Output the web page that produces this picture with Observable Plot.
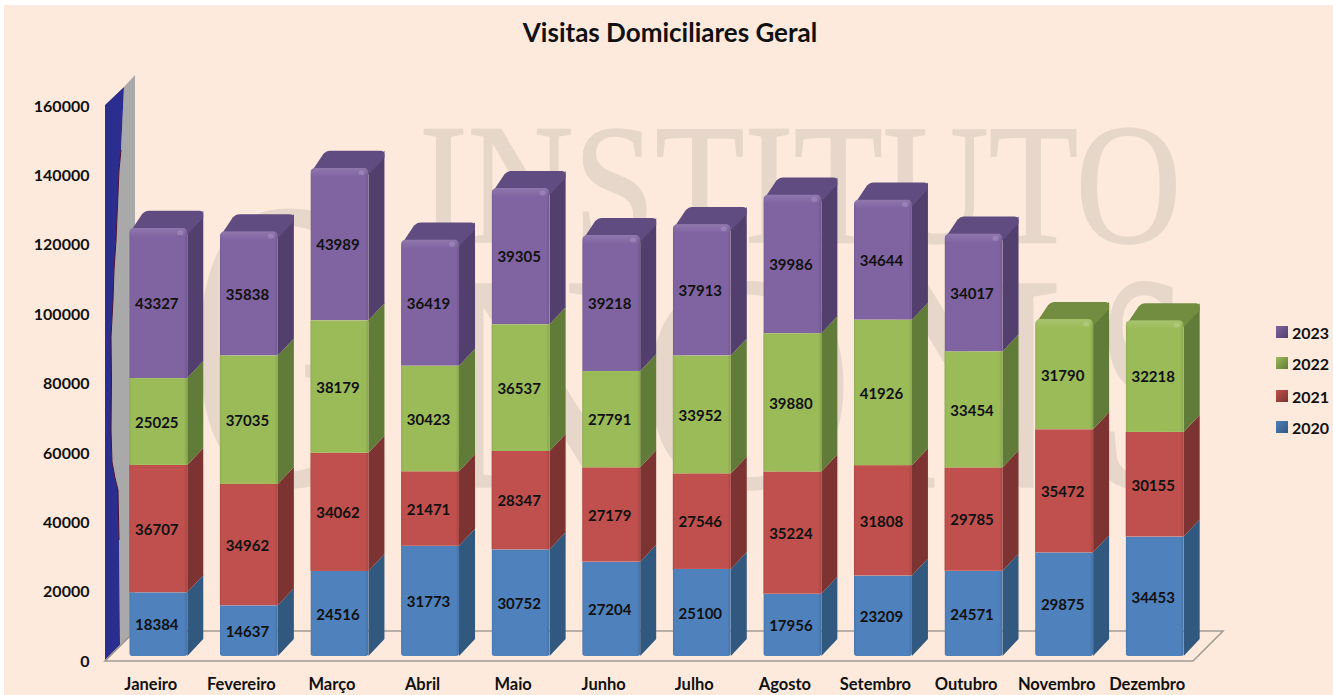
<!DOCTYPE html>
<html lang="pt">
<head>
<meta charset="utf-8">
<script src="https://cdn.jsdelivr.net/npm/d3@7"></script>
<script src="https://cdn.jsdelivr.net/npm/@observablehq/plot@0.6"></script>
<style>
  html,body{margin:0;padding:0;background:#fff;}
  #page{position:relative;width:1333px;height:695px;overflow:hidden;background:#fff;}
  #bg{position:absolute;left:4px;top:5px;right:0;bottom:0;background:#fdeadc;}
  #chart{position:absolute;left:0;top:0;}
  #chart svg{background:transparent;display:block;}
  #title{position:absolute;left:0;width:1340px;top:16px;text-align:center;font:700 26px Lato,sans-serif;color:#111;}
  #legend{position:absolute;left:1276px;top:0;font:700 16px Lato,sans-serif;color:#111;}
  #legend .row{position:absolute;left:0;display:flex;align-items:center;gap:4px;height:18px;white-space:nowrap;}
  #legend .sw{display:inline-block;width:12px;height:12px;}
</style>
</head>
<body>
<div id="page">
  <div id="bg"></div>
  <div id="chart"></div>
  <div id="title">Visitas Domiciliares Geral</div>
  <div id="legend"></div>
</div>
<script>
const months = ["Janeiro","Fevereiro","Março","Abril","Maio","Junho","Julho","Agosto","Setembro","Outubro","Novembro","Dezembro"];
const years = ["2020","2021","2022","2023"];
const v2020 = [18384,14637,24516,31773,30752,27204,25100,17956,23209,24571,29875,34453];
const v2021 = [36707,34962,34062,21471,28347,27179,27546,35224,31808,29785,35472,30155];
const v2022 = [25025,37035,38179,30423,36537,27791,33952,39880,41926,33454,31790,32218];
const v2023 = [43327,35838,43989,36419,39305,39218,37913,39986,34644,34017,null,null];
const yTicks = [0,20000,40000,60000,80000,100000,120000,140000,160000];
const front = ["#4f81bd","#c0504d","#9bbb59","#8064a2"];
const side  = ["#31587f","#7c3331","#617b38","#533f6d"];
const topFace = ["#3d6a9c","#9a403e","#728c40","#604c80"];

const series = [v2020,v2021,v2022,v2023];
const rows = [];
months.forEach((m,i)=>{
  years.forEach((yr,k)=>{
    const v = series[k][i];
    if (v != null) rows.push({month:m, year:yr, value:v});
  });
});
const topYear = new Map(months.map((m,i)=>[m, series[3][i]!=null ? "2023" : "2022"]));

const NS = "http://www.w3.org/2000/svg";
const el = (name, attrs, parent) => {
  const e = document.createElementNS(NS, name);
  for (const k in attrs) e.setAttribute(k, attrs[k]);
  if (parent) parent.appendChild(e);
  return e;
};

/* Background lettering of the sheet */
function watermark() {
  const g = el("g", {fill:"#e6d7ca", stroke:"#e6d7ca", "stroke-width":1.5, "font-family":"'Liberation Serif',serif", "text-anchor":"start"});
  const put = (s, size, x, y, sx) => {
    const t = el("text", {transform:`translate(${x},${y}) scale(${sx},1)`, "font-size":size}, g);
    t.textContent = s;
  };
  put("INSTITUTO", 172, 419, 242, 0.852);
  put("G", 415, 190, 484, 0.62);
  put("N", 310, 437, 487, 0.9);
  put("O", 310, 640, 487, 0.96);
  put("N", 310, 865, 487, 0.88);
  put("S", 310, 1098, 487, 0.52);
  return g;
}

/* Wall and floor of the 3-D chart frame, hung on the y scale */
function frameMark(index, scales) {
  const y = scales.y;
  const g = el("g", {});
  const base = y(0), topY = y(160000);
  const wave = [[124,87],[121,150],[119,170],[116,240],[114,270],[113,300],[111,337],[111.5,380],[111,430],[112,462],[115,478],[118,490],[119,540],[120,645]];
  const wavePts = wave.map(p=>p.join(","));
  el("polygon", {points:[...wavePts,`135,631`,`135,75`].join(" "), fill:"#a9a9a9"}, g);
  el("polygon", {points:[`105,${topY+4}`,...wavePts,`105,${base+4}`].join(" "), fill:"#2b2e8e"}, g);
  el("polyline", {points:wave.slice(1,13).join(" "), fill:"none", stroke:"#4a1036", "stroke-width":1}, g);
  el("polygon", {points:`105,${base+5} 1193,${base+5} 1223,${base-25} 135,${base-25}`, fill:"none", stroke:"#a39c94", "stroke-width":1.6}, g);
  el("polyline", {points:`135,${base-25} 120,${base-10} 105,${base+5}`, fill:"none", stroke:"#8d8a88", "stroke-width":1}, g);
  return g;
}

const DX = 16, DY = 17;
function cubeRender(index, scales, values, dimensions, context, next) {
  const g = next(index, scales, values, dimensions, context);
  const rects = Array.from(g.querySelectorAll("rect"));
  const layer = el("g", {});
  g.insertBefore(layer, g.firstChild);
  rects.forEach((r,n)=>{
    const d = rows[index[n]];
    const k = years.indexOf(d.year);
    const x = +r.getAttribute("x"), y0 = +r.getAttribute("y"), w = +r.getAttribute("width"), h = +r.getAttribute("height");
    el("polygon",{points:`${x+w},${y0} ${x+w+DX},${y0-DY} ${x+w+DX},${y0+h-DY} ${x+w},${y0+h}`, fill:side[k]}, layer);
    const isTop = topYear.get(d.month) === d.year;
    if (isTop) {
      el("path",{d:`M${x+3},${y0+1} L${x+DX-3},${y0-DY+3} Q${x+DX},${y0-DY} ${x+DX+3},${y0-DY} L${x+w+DX-4},${y0-DY} Q${x+w+DX},${y0-DY} ${x+w+DX},${y0-DY+4} L${x+w+DX},${y0-DY+7} L${x+w},${y0+7} Z`, fill:topFace[k]}, layer);
      r.style.clipPath = "inset(0 round 5px 5px 0 0)";
    }
    if (d.year === "2020") r.style.clipPath = "inset(0 round 0 0 3px 3px)";
    const shade = el("rect",{x, y:y0, width:w, height:h, fill:"url(#bevelH)"}, g);
    shade.style.clipPath = r.style.clipPath;
    if (isTop) {
      const band = el("rect",{x:x, y:y0, width:w, height:9, fill:"url(#bevelV)"}, g);
      band.style.clipPath = "inset(0 round 5px 5px 0 0)";
      el("ellipse",{cx:x+w-7, cy:y0+5, rx:3, ry:2.5, fill:"#fff", "fill-opacity":0.15}, g);
    }
  });
  return g;
}

function defsMark() {
  const defs = el("defs", {});
  const h = el("linearGradient",{id:"bevelH",x1:0,x2:1,y1:0,y2:0},defs);
  [[0,"#000",0.08],[0.04,"#000",0],[0.94,"#000",0],[1,"#000",0.12]].forEach(([o,c,a])=>el("stop",{offset:o,"stop-color":c,"stop-opacity":a},h));
  const v = el("linearGradient",{id:"bevelV",x1:0,x2:0,y1:0,y2:1},defs);
  [[0,"#fff",0.13],[1,"#fff",0]].forEach(([o,c,a])=>el("stop",{offset:o,"stop-color":c,"stop-opacity":a},v));
  return defs;
}

const chart = Plot.plot({
  width:1333, height:695,
  marginLeft:113, marginRight:133, marginTop:101, marginBottom:39,
  style:{background:"transparent", fontFamily:"Lato,sans-serif"},
  x:{domain:months, paddingInner:0.36, paddingOuter:0.18, round:false, label:null},
  y:{domain:[0,160000], label:null},
  color:{domain:years, range:front},
  marks:[
    defsMark,
    watermark,
    frameMark,
    Plot.axisY({ticks:yTicks, tickSize:0, tickPadding:24, dy:5, label:null, fontSize:16, fontWeight:700, fill:"#111", tickFormat:d=>String(d)}),
    Plot.axisX({tickSize:0, tickPadding:22, dx:-8, label:null, fontSize:16.5, fontWeight:700, fill:"#111"}),
    Plot.barY(rows, Plot.stackY({x:"month", y:"value", fill:"year", order:years, render:cubeRender})),
    Plot.text(rows, Plot.stackY({x:"month", y:"value", z:"year", order:years, text:d=>String(d.value), dx:-2, dy:1, fontSize:15, fontWeight:700, fill:"#111"}))
  ]
});
document.getElementById("chart").appendChild(chart);

const legend = document.getElementById("legend");
const legendY = {"2023":323,"2022":354,"2021":387,"2020":418};
[...years].reverse().forEach(yr=>{
  const k = years.indexOf(yr);
  const row = document.createElement("div");
  row.className = "row";
  row.style.top = legendY[yr]+"px";
  const sw = document.createElement("span");
  sw.className = "sw";
  sw.style.background = `linear-gradient(135deg, ${front[k]}, ${side[k]})`;
  row.appendChild(sw);
  row.appendChild(document.createTextNode(yr));
  legend.appendChild(row);
});
</script>
</body>
</html>
